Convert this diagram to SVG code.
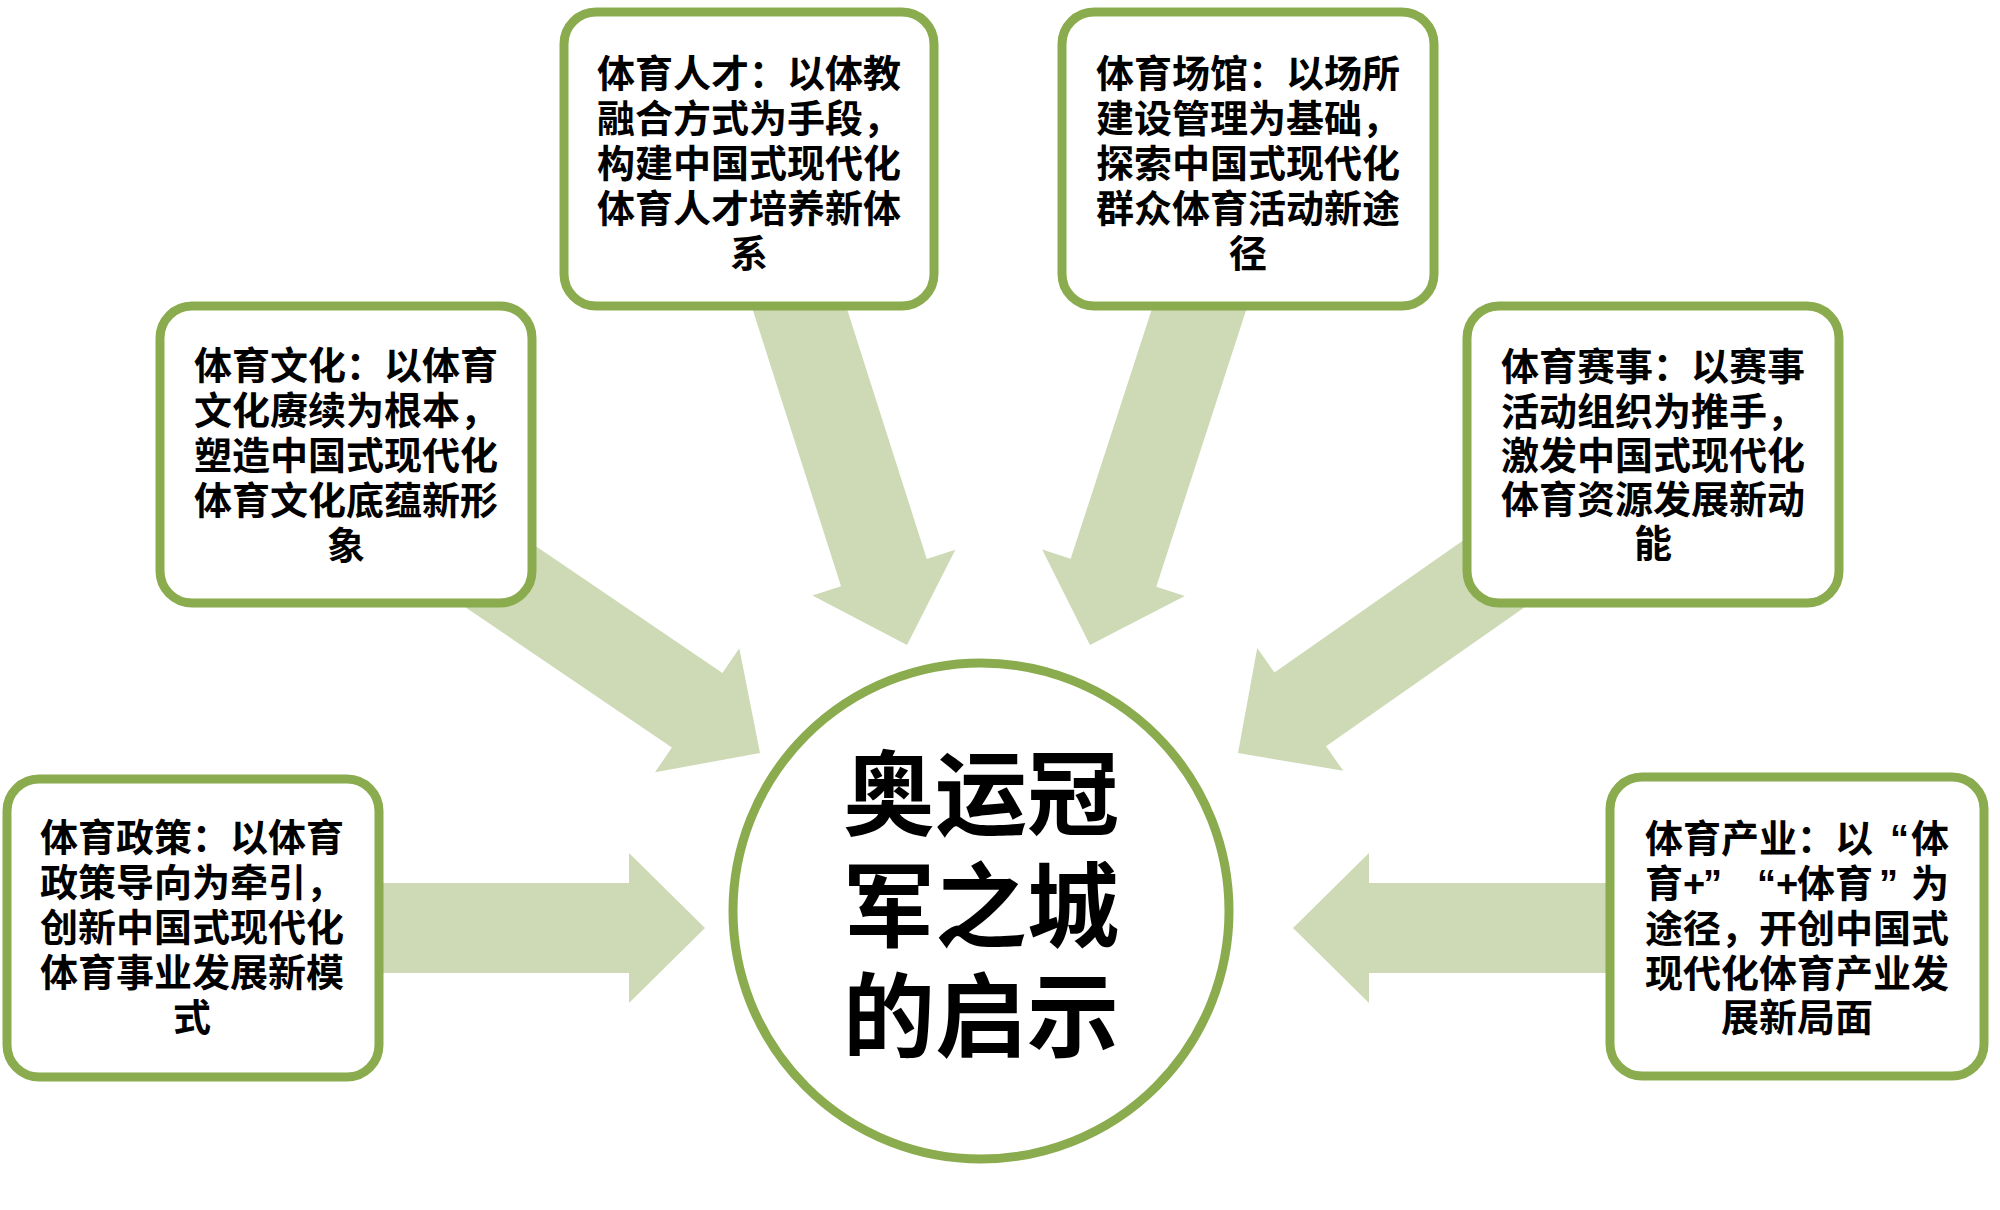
<svg xmlns="http://www.w3.org/2000/svg" width="2000" height="1210" viewBox="0 0 2000 1210">
<style>
.box{fill:#fff;stroke:#8aac4e;stroke-width:9}
.arr{fill:#cddab5}
.t{font-family:"Liberation Sans","Noto Sans CJK SC","Noto Sans CJK TC",sans-serif;font-weight:700;font-size:38px;fill:#000;text-anchor:middle}
.s{text-anchor:start}
.big{font-family:"Liberation Sans","Noto Sans CJK SC","Noto Sans CJK TC",sans-serif;font-weight:700;font-size:92px;fill:#000;text-anchor:middle}
</style>
<defs>
<path id="arrow" d="M0,0 L-76,-75 L-76,-45 L-380,-45 L-380,45 L-76,45 L-76,75 Z"/>
</defs>
<rect width="2000" height="1210" fill="#fff"/>
<g id="connectors" class="arr">
<use href="#arrow" transform="translate(705,928)"/>
<use href="#arrow" transform="translate(760,753) rotate(34.2)"/>
<use href="#arrow" transform="translate(907,645) rotate(72.3)"/>
<use href="#arrow" transform="translate(1090,645) rotate(108)"/>
<use href="#arrow" transform="translate(1238,753) rotate(145)"/>
<use href="#arrow" transform="translate(1293,928) rotate(180)"/>
</g>
<g id="center">
<circle cx="981" cy="911" r="248" fill="#fff" stroke="#8aac4e" stroke-width="9"/>
<text class="big" x="981" y="828">奥运冠</text>
<text class="big" x="981" y="940">军之城</text>
<text class="big" x="981" y="1050">的启示</text>
</g>
<g id="policy">
<rect class="box" x="7" y="779" width="372" height="298" rx="32"/>
<text class="t" x="192"><tspan x="192" y="851">体育政策：以体育</tspan><tspan x="192" y="896">政策导向为牵引，</tspan><tspan x="192" y="941">创新中国式现代化</tspan><tspan x="192" y="986">体育事业发展新模</tspan><tspan x="192" y="1031">式</tspan></text>
</g>
<g id="culture">
<rect class="box" x="160" y="306" width="372" height="297" rx="32"/>
<text class="t" x="346"><tspan x="346" y="379">体育文化：以体育</tspan><tspan x="346" y="424">文化赓续为根本，</tspan><tspan x="346" y="469">塑造中国式现代化</tspan><tspan x="346" y="514">体育文化底蕴新形</tspan><tspan x="346" y="559">象</tspan></text>
</g>
<g id="talent">
<rect class="box" x="564" y="12" width="370" height="294" rx="32"/>
<text class="t" x="749"><tspan x="749" y="87">体育人才：以体教</tspan><tspan x="749" y="132">融合方式为手段，</tspan><tspan x="749" y="177">构建中国式现代化</tspan><tspan x="749" y="222">体育人才培养新体</tspan><tspan x="749" y="267">系</tspan></text>
</g>
<g id="venue">
<rect class="box" x="1062" y="12" width="372" height="294" rx="32"/>
<text class="t" x="1248"><tspan x="1248" y="87">体育场馆：以场所</tspan><tspan x="1248" y="132">建设管理为基础，</tspan><tspan x="1248" y="177">探索中国式现代化</tspan><tspan x="1248" y="222">群众体育活动新途</tspan><tspan x="1248" y="267">径</tspan></text>
</g>
<g id="events">
<rect class="box" x="1467" y="306" width="372" height="297" rx="32"/>
<text class="t" x="1653"><tspan x="1653" y="380">体育赛事：以赛事</tspan><tspan x="1653" y="425">活动组织为推手，</tspan><tspan x="1653" y="469">激发中国式现代化</tspan><tspan x="1653" y="513">体育资源发展新动</tspan><tspan x="1653" y="557">能</tspan></text>
</g>
<g id="industry">
<rect class="box" x="1610" y="777" width="374" height="299" rx="32"/>
<text class="t s" x="1645" y="852">体育产业：以<tspan x="1890">“</tspan><tspan x="1911">体</tspan></text>
<text class="t s" x="1645" y="897">育<tspan x="1683">+</tspan><tspan x="1703">”</tspan><tspan x="1757">“</tspan><tspan x="1776">+</tspan><tspan x="1797">体育</tspan><tspan x="1879">”</tspan><tspan x="1911">为</tspan></text>
<text class="t" x="1797"><tspan x="1797" y="942">途径，开创中国式</tspan><tspan x="1797" y="987">现代化体育产业发</tspan><tspan x="1797" y="1031">展新局面</tspan></text>
</g>
</svg>
